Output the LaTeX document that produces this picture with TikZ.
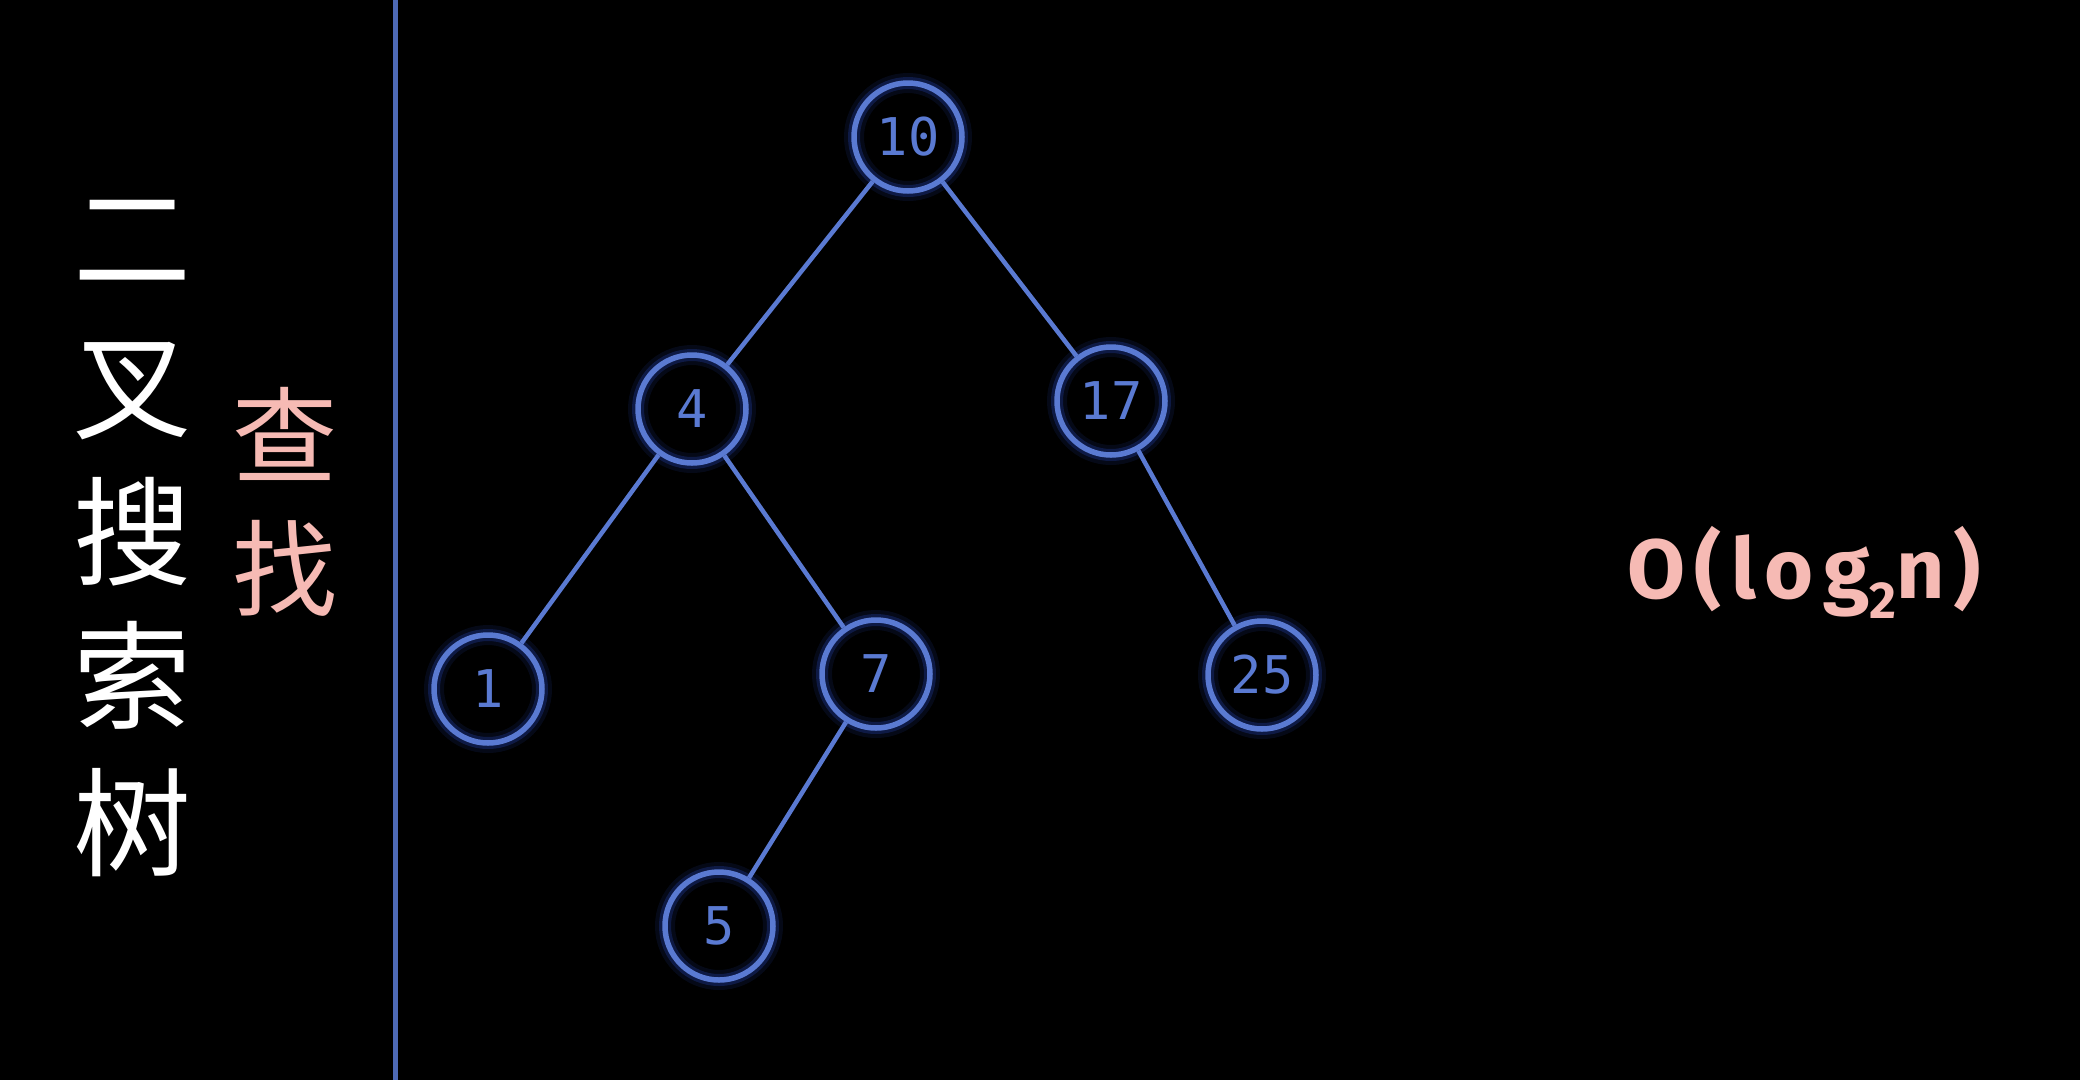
\documentclass[tikz,border=0pt]{standalone}
\usepackage{fontspec}
\newfontfamily\cjk{Noto Sans CJK SC}
\newfontfamily\monof{DejaVu Sans Mono}
\newfontfamily\firaf[LetterSpace=11]{Fira Sans}
\definecolor{nodeblue}{RGB}{90,122,210}
\definecolor{glowblue}{RGB}{50,90,235}
\definecolor{lineblue}{RGB}{78,106,182}
\definecolor{pinktext}{RGB}{246,186,180}
\begin{document}
\begin{tikzpicture}[x=1pt,y=-1pt,
  treenode/.style={circle, draw=nodeblue, line width=5.5pt, minimum size=108pt,
    inner sep=0pt, text=nodeblue, font=\monof\fontsize{52}{52}\selectfont,
    preaction={draw=glowblue, line width=20pt, draw opacity=0.10},
    preaction={draw=glowblue, line width=12pt, draw opacity=0.22}},
  treeline/.style={draw=nodeblue, line width=4.5pt},
  titlechar/.style={text=white, font=\cjk\fontsize{118}{118}\selectfont,
    text height=104pt, text depth=14pt, inner sep=0pt},
  pinkchar/.style={text=pinktext, font=\cjk\fontsize{105}{105}\selectfont,
    text height=92pt, text depth=13pt, inner sep=0pt},
  bigo/.style={text=pinktext, font=\firaf\bfseries\fontsize{84}{84}\selectfont, inner sep=0pt}
]
\fill[black] (0,0) rectangle (2080,1080);
\useasboundingbox (0,0) rectangle (2080,1080);

% divider
\draw[lineblue, line width=5pt] (395,0) -- (395,1080);

% title
\node[titlechar] (t1) at (132,237) {二};
\node[titlechar] (t2) at (132,385) {叉};
\node[titlechar] (t3) at (132,531) {搜};
\node[titlechar] (t4) at (132,675) {索};
\node[titlechar] (t5) at (132,822) {树};

\node[pinkchar] (p1) at (285,436) {查};
\node[pinkchar] (p2) at (285,569) {找};

% tree
\node[treenode] (n10) at (908,137) {10};
\node[treenode] (n4)  at (692,409) {4};
\node[treenode] (n17) at (1111,401) {17};
\node[treenode] (n1)  at (488,689) {1};
\node[treenode] (n7)  at (876,674) {7};
\node[treenode] (n25) at (1262,675) {25};
\node[treenode] (n5)  at (719,926) {5};

\draw[treeline] (n10) -- (n4);
\draw[treeline] (n10) -- (n17);
\draw[treeline] (n4) -- (n1);
\draw[treeline] (n4) -- (n7);
\draw[treeline] (n17) -- (n25);
\draw[treeline] (n7) -- (n5);

% complexity
\node[bigo, anchor=base west] (cx) at (1627,598) {O(log\raisebox{-0.24em}{\fontsize{52}{52}\selectfont 2}n)};
\end{tikzpicture}
\end{document}
